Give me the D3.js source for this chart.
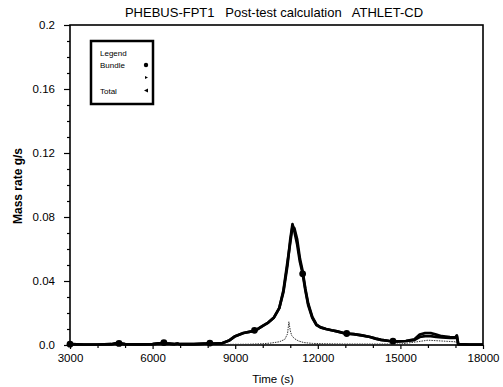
<!DOCTYPE html>
<html><head><meta charset="utf-8">
<script src="https://cdn.jsdelivr.net/npm/d3@7"></script>
<style>
body{margin:0;background:#fff;}
text{font-family:"Liberation Sans",Arial,sans-serif;fill:#000;}
</style></head>
<body><svg id="c" width="503" height="387"></svg>
<script>
const xTicks = [3000, 6000, 9000, 12000, 15000, 18000];
const yTicks = [0.0, 0.04, 0.08, 0.12, 0.16, 0.2];
const yTickLabels = ["0.0", "0.04", "0.08", "0.12", "0.16", "0.2"];

const times = [3000,3500,4000,4500,4700,4800,5000,5500,6000,6300,6400,6500,6800,6900,7000,7500,7900,8050,8200,8500,8800,9000,9300,9600,9800,10000,10200,10400,10600,10750,10900,11000,11080,11150,11250,11350,11450,11550,11650,11800,11950,12100,12300,12500,12700,13000,13300,13600,13900,14100,14300,14600,14900,15200,15500,15700,15900,16100,16300,16500,16800,17000,17050,17100,17500,18000];
const bundle = [0.0005,0.0003,0.0003,0.0005,0.0012,0.001,0.0005,0.0004,0.0005,0.0012,0.0015,0.001,0.0006,0.0009,0.0005,0.0005,0.0008,0.0013,0.0008,0.001,0.003,0.0055,0.0075,0.0085,0.0098,0.012,0.014,0.017,0.023,0.033,0.05,0.066,0.0755,0.071,0.063,0.052,0.0445,0.034,0.025,0.017,0.0125,0.011,0.010,0.0092,0.0085,0.0072,0.0068,0.006,0.005,0.004,0.0032,0.0025,0.0023,0.0025,0.003,0.005,0.0055,0.0055,0.005,0.0048,0.0045,0.0045,0.0055,0.0005,0.0003,0.0003];
const total = [0.0005,0.0003,0.0003,0.0005,0.0012,0.001,0.0005,0.0004,0.0005,0.0012,0.0015,0.001,0.0006,0.0009,0.0005,0.0005,0.0008,0.0013,0.0008,0.001,0.003,0.0055,0.0075,0.0085,0.0098,0.012,0.014,0.017,0.023,0.034,0.052,0.064,0.074,0.073,0.066,0.054,0.046,0.035,0.026,0.0175,0.0128,0.011,0.010,0.0092,0.0085,0.0072,0.0068,0.006,0.005,0.004,0.0032,0.0025,0.0023,0.0025,0.0035,0.0065,0.0075,0.0075,0.0065,0.0055,0.005,0.0048,0.006,0.0005,0.0003,0.0003];

const otherTimes = [3000,8000,9500,10000,10300,10600,10800,10900,10950,11000,11050,11150,11300,11500,11800,12200,13000,15000,15600,16000,16500,17000,17100,18000];
const other = [0.0002,0.0003,0.0005,0.0008,0.0012,0.002,0.0035,0.007,0.0145,0.009,0.006,0.004,0.0025,0.0015,0.001,0.0008,0.0006,0.0006,0.002,0.003,0.0025,0.002,0.0003,0.0002];

const bundleMarkTimes = [3000,4780,6410,8080,9700,11450,13050,14730];
const bundleMarkVals = [0.0005,0.001,0.0015,0.0012,0.0092,0.0445,0.0072,0.0024];

const legendLabels = ["Bundle", "", "Total"];

const svg = d3.select("#c");
const L=70,R=483,T=25,B=345;
const x = d3.scaleLinear().domain([3000,18000]).range([L,R]);
const y = d3.scaleLinear().domain([0,0.2]).range([B,T]);

svg.append("rect").attr("x",L).attr("y",T).attr("width",R-L).attr("height",B-T)
  .attr("fill","none").attr("stroke","#000").attr("stroke-width",1.6);

const xa = svg.append("g").attr("transform",`translate(0,${B})`)
  .call(d3.axisBottom(x).tickValues(xTicks).tickFormat(d3.format("d")).tickSize(4).tickPadding(5));
const xm = svg.append("g").attr("transform",`translate(0,${B})`)
  .call(d3.axisBottom(x).tickValues(d3.range(4000,18000,1000).filter(v=>v%3000)).tickFormat("").tickSize(3));
const ya = svg.append("g").attr("transform",`translate(${L},0)`)
  .call(d3.axisLeft(y).tickValues(yTicks).tickFormat((d,i)=>yTickLabels[i]).tickSize(6).tickPadding(9));
const ym = svg.append("g").attr("transform",`translate(${L},0)`)
  .call(d3.axisLeft(y).tickValues(d3.range(0.01,0.2,0.01).filter((v,i)=>(i+1)%4)).tickFormat("").tickSize(3));
[xa,xm,ya,ym].forEach(g=>{g.select(".domain").remove();g.selectAll("line").attr("stroke","#000").attr("stroke-width",1.2);
  g.selectAll("text").attr("font-size",11.5).attr("font-family","Liberation Sans, Arial, sans-serif");});

const line = d3.line().x(d=>x(d[0])).y(d=>y(d[1]));
svg.append("path").datum(otherTimes.map((t,i)=>[t,other[i]]))
  .attr("d",line).attr("fill","none").attr("stroke","#333").attr("stroke-width",1).attr("stroke-dasharray","1.5,1");
svg.append("path").datum(times.map((t,i)=>[t,total[i]]))
  .attr("d",line).attr("fill","none").attr("stroke","#000").attr("stroke-width",2.7).attr("stroke-linejoin","round");
svg.append("path").datum(times.map((t,i)=>[t,bundle[i]]))
  .attr("d",line).attr("fill","none").attr("stroke","#000").attr("stroke-width",2.7).attr("stroke-linejoin","round");
svg.selectAll("circle.m").data(bundleMarkTimes).enter().append("circle")
  .attr("cx",d=>x(d)).attr("cy",(d,i)=>y(bundleMarkVals[i])).attr("r",3.4).attr("fill","#000");

svg.append("text").attr("x",274).attr("y",17).attr("text-anchor","middle").attr("font-size",13)
  .style("white-space","pre").text("PHEBUS-FPT1   Post-test calculation   ATHLET-CD");
svg.append("text").attr("x",273).attr("y",383).attr("text-anchor","middle").attr("font-size",11.5).text("Time (s)");
svg.append("text").attr("transform","translate(22,186) rotate(-90)").attr("text-anchor","middle")
  .attr("font-size",12).attr("font-weight","bold").text("Mass rate g/s");

const lg = svg.append("g");
lg.append("rect").attr("x",91).attr("y",41).attr("width",62).attr("height",63)
  .attr("fill","#fff").attr("stroke","#000").attr("stroke-width",2.5);
lg.append("text").attr("x",100).attr("y",56).attr("font-size",8).text("Legend");
const ly = [68,81,94];
legendLabels.forEach((s,i)=>{
  lg.append("text").attr("x",100).attr("y",ly[i]).attr("font-size",8).text(s);
});
lg.append("circle").attr("cx",146).attr("cy",ly[0]-3).attr("r",2.2).attr("fill","#000");
lg.append("path").attr("d",`M145,${ly[1]-5}L148,${ly[1]-3.5}L145,${ly[1]-2}Z`).attr("fill","#000");
lg.append("path").attr("d",`M148,${ly[2]-5.5}L144,${ly[2]-3.5}L148,${ly[2]-1.5}Z`).attr("fill","#000");
</script></body></html>
